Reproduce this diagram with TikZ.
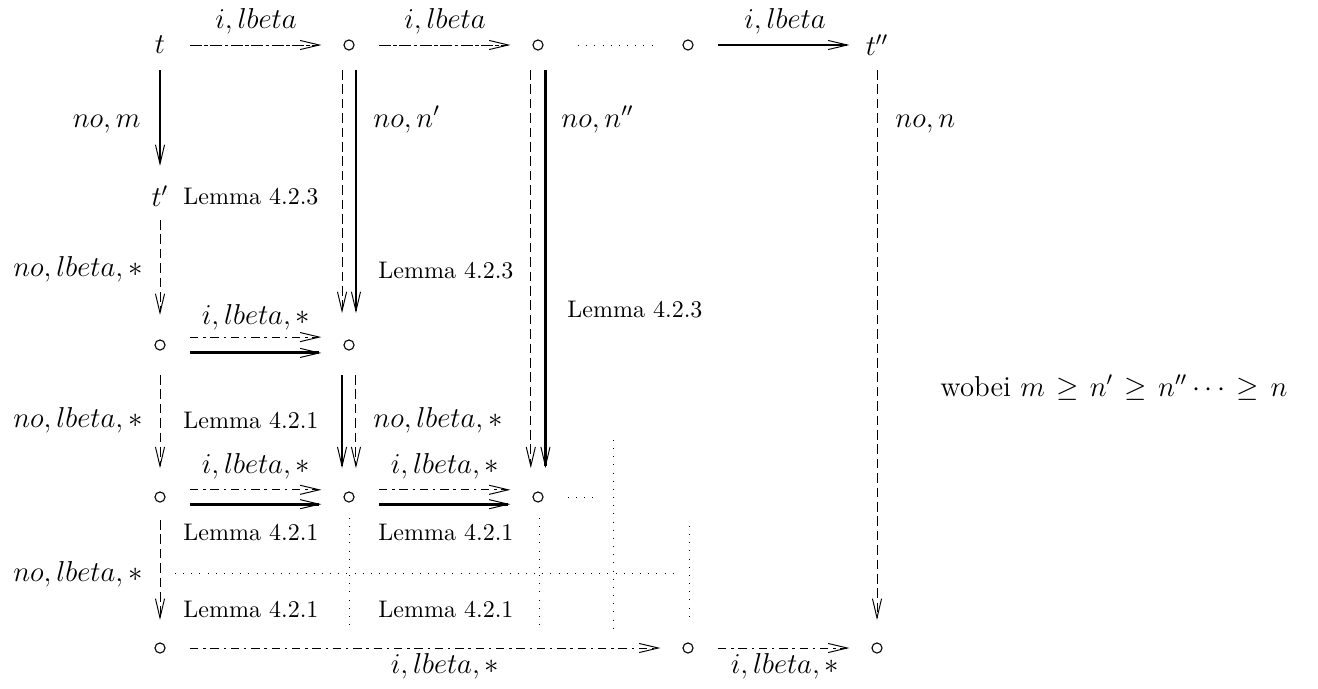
\documentclass[tikz,border=0pt]{standalone}
\usetikzlibrary{arrows.meta}
\begin{document}
\begin{tikzpicture}[x=0.41667pt,y=-0.41667pt,
  pt/.style={circle,draw,line width=0.45pt,inner sep=0pt,minimum size=4.2pt},
  lbl/.style={inner sep=0pt,font=\large},
  lem/.style={inner sep=0pt,font=\normalsize},
  arr/.style={-{Straight Barb[length=8pt,width=3.8pt,line width=0.4pt]},line width=0.4pt},
  vdash/.style={arr,dash pattern=on 4pt off 2pt},
  topdash/.style={arr,dash pattern=on 5pt off 1pt on 1.5pt off 1pt},
  hdash/.style={arr,dash pattern=on 3.5pt off 2pt on 1pt off 2pt},
  solidarr/.style={arr,line width=1.2pt},
  thinsolid/.style={arr,line width=0.8pt},
  dotline/.style={line width=0.35pt,dash pattern=on 0.4pt off 3pt},
  hs/.style={shorten <=12.5pt,shorten >=11.5pt}
]
\useasboundingbox (0,0) rectangle (1318,688);

% nodes
\node[lbl] (t) at (160,45) {$t$};
\node[pt] (a1) at (349,45) {};
\node[pt] (a2) at (538,45) {};
\node[pt] (a3) at (688,45) {};
\node[lbl] (t2) at (877,45) {$t''$};
\node[lbl] (t1) at (160,196) {$t'$};
\node[pt] (b0) at (160,345) {};
\node[pt] (b1) at (349,345) {};
\node[pt] (c0) at (160,497) {};
\node[pt] (c1) at (349,497) {};
\node[pt] (c2) at (538,497) {};
\coordinate (c3) at (600,497);
\node[pt] (d0) at (160,648) {};
\node[pt] (d3) at (688,648) {};
\node[pt] (d4) at (877,648) {};

% top row
\draw[topdash,hs] (t.center) -- (a1.center);
\draw[topdash,hs] (a1.center) -- (a2.center);
\draw[dotline,shorten <=16.7pt,shorten >=13.7pt] (a2.center) -- (a3.center);
\draw[thinsolid,hs] (a3.center) -- (t2.center);
\node[lbl,anchor=base] (l1) at (256,28) {$i,lbeta$};
\node[lbl,anchor=base] (l2) at (445,28) {$i,lbeta$};
\node[lbl,anchor=base] (l3) at (785,28) {$i,lbeta$};

% vertical arrows
\draw[solidarr,shorten <=10.4pt,shorten >=12.5pt] (t.center) -- (t1.center);
\draw[vdash,shorten <=10.4pt,shorten >=13.3pt] ([xshift=-2.9pt]a1.center) -- ([xshift=-2.9pt]b1.center);
\draw[solidarr,shorten <=10.4pt,shorten >=13.3pt] ([xshift=2.9pt]a1.center) -- ([xshift=2.9pt]b1.center);
\draw[vdash,shorten <=10.4pt,shorten >=12pt] ([xshift=-3pt]a2.center) -- ([xshift=-3pt]c2.center);
\draw[solidarr,shorten <=10.4pt,shorten >=12pt] ([xshift=3.1pt]a2.center) -- ([xshift=3.1pt]c2.center);
\draw[vdash,shorten <=10.4pt,shorten >=11.7pt] (t2.center) -- (d4.center);
\draw[vdash,shorten <=10pt,shorten >=12.5pt] (t1.center) -- (b0.center);
\draw[vdash,shorten <=12.5pt,shorten >=12pt] (b0.center) -- (c0.center);
\draw[solidarr,shorten <=12.5pt,shorten >=12pt] ([xshift=-2.9pt]b1.center) -- ([xshift=-2.9pt]c1.center);
\draw[vdash,shorten <=12.5pt,shorten >=12pt] ([xshift=2.9pt]b1.center) -- ([xshift=2.9pt]c1.center);
\draw[vdash,shorten <=9.6pt,shorten >=11.7pt] (c0.center) -- (d0.center);

% vertical labels
\node[lbl,anchor=base east] (v1) at (141,127) {$no,m$};
\node[lbl,anchor=base west] (v2) at (373,127) {$no,n'$};
\node[lbl,anchor=base west] (v3) at (561,127) {$no,n''$};
\node[lbl,anchor=base west] (v4) at (895,127) {$no,n$};
\node[lbl,anchor=base east] (v5) at (143,276) {$no,lbeta,*$};
\node[lbl,anchor=base east] (v6) at (143,427) {$no,lbeta,*$};
\node[lbl,anchor=base west] (v7) at (373,427) {$no,lbeta,*$};
\node[lbl,anchor=base east] (v8) at (143,581) {$no,lbeta,*$};

% row 3
\draw[hdash,hs] ([yshift=3.3pt]b0.center) -- ([yshift=3.3pt]b1.center);
\draw[solidarr,hs] ([yshift=-3.3pt]b0.center) -- ([yshift=-3.3pt]b1.center);
\node[lbl,anchor=base] (h1) at (256,324) {$i,lbeta,*$};

% row 4
\draw[hdash,hs] ([yshift=3pt]c0.center) -- ([yshift=3pt]c1.center);
\draw[solidarr,hs] ([yshift=-3pt]c0.center) -- ([yshift=-3pt]c1.center);
\draw[hdash,hs] ([yshift=3pt]c1.center) -- ([yshift=3pt]c2.center);
\draw[solidarr,hs] ([yshift=-3pt]c1.center) -- ([yshift=-3pt]c2.center);
\draw[dotline,shorten <=12.5pt] (c2.center) -- (c3);
\node[lbl,anchor=base] (h2) at (256,473) {$i,lbeta,*$};
\node[lbl,anchor=base] (h3) at (445,473) {$i,lbeta,*$};

% bottom row
\draw[hdash,hs] (d0.center) -- (d3.center);
\draw[hdash,hs] (d3.center) -- (d4.center);
\node[lbl,anchor=base] (h4) at (445,673) {$i,lbeta,*$};
\node[lbl,anchor=base] (h5) at (785,673) {$i,lbeta,*$};

% dotted grid
\draw[dotline] (349,518) -- (349,627);
\draw[dotline] (539,518) -- (539,627);
\draw[dotline] (613,440) -- (613,633);
\draw[dotline] (689,526) -- (689,619);
\draw[dotline] (175,573) -- (680,573);

% lemma labels
\node[lem,anchor=base west] (m1) at (183,204) {Lemma 4.2.3};
\node[lem,anchor=base west] (m2) at (378,278) {Lemma 4.2.3};
\node[lem,anchor=base west] (m3) at (567,317) {Lemma 4.2.3};
\node[lem,anchor=base west] (m4) at (183,428) {Lemma 4.2.1};
\node[lem,anchor=base west] (m5) at (183,540) {Lemma 4.2.1};
\node[lem,anchor=base west] (m6) at (378,540) {Lemma 4.2.1};
\node[lem,anchor=base west] (m7) at (183,617) {Lemma 4.2.1};
\node[lem,anchor=base west] (m8) at (378,617) {Lemma 4.2.1};

% note
\node[lbl,anchor=base west] (w) at (940,396) {wobei $\thickmuskip=7mu m\geq n'\geq n''\cdots\geq n$};
\end{tikzpicture}
\end{document}
